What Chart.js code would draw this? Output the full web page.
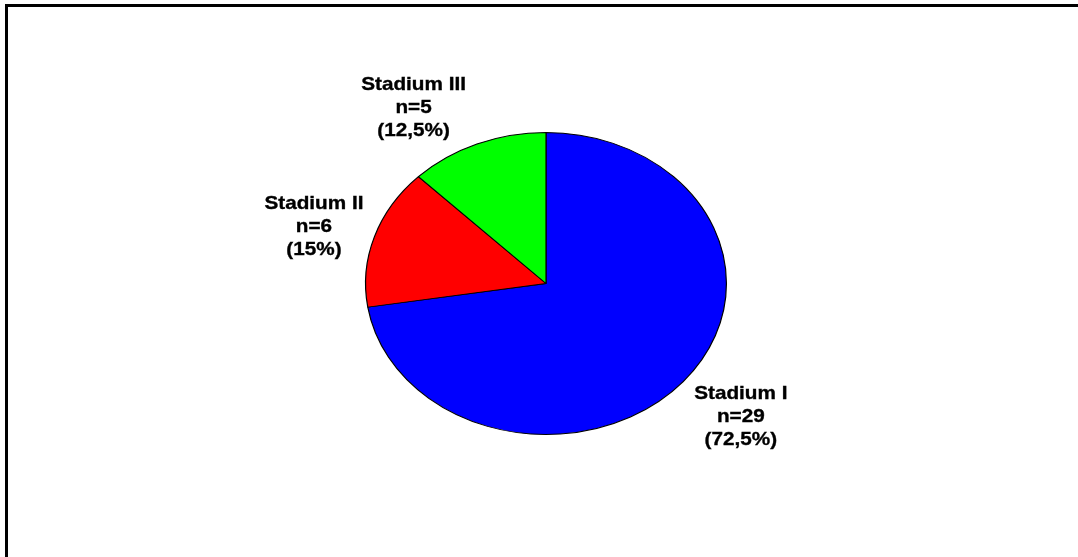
<!DOCTYPE html>
<html>
<head>
<meta charset="utf-8">
<script src="https://cdn.jsdelivr.net/npm/chart.js@4/dist/chart.umd.min.js"></script>
<style>
  html, body { margin: 0; padding: 0; background: #fff; }
  #wrap { position: relative; width: 1078px; height: 557px; overflow: hidden; }
  #frame { position: absolute; left: 5px; top: 4px; right: -10px; bottom: -10px;
           border-top: 3px solid #000; border-left: 3px solid #000; box-sizing: border-box; pointer-events: none; }
  canvas { position: absolute; left: 0; top: 0; }
</style>
</head>
<body>
<div id="wrap">
  <canvas id="c" width="1078" height="557"></canvas>
  <div id="frame"></div>
</div>
<script>
// ---- data ----
const categories = ["Stadium I", "Stadium II", "Stadium III"];
const counts = [29, 6, 5];
const colors = ["#0000FF", "#FF0000", "#00FF00"];

// ---- styling ----
const ELLIPSE_X = 1.195;      // horizontal stretch of the pie (ellipse look)
const TEXT_X = 1.09;          // horizontal stretch of label text
const FONT = "bold 19px 'Liberation Sans', Arial, sans-serif";
const LINE_H = 23;

const total = counts.reduce((a, b) => a + b, 0);
function pctText(v) {
  const p = Math.round(v / total * 1000) / 10;
  return (Number.isInteger(p) ? String(p) : p.toFixed(1).replace('.', ',')) + '%';
}

const ellipsePlugin = {
  id: 'ellipse',
  beforeDatasetsDraw(chart) {
    const arc = chart.getDatasetMeta(0).data[0];
    const ctx = chart.ctx;
    ctx.save();
    ctx.translate(arc.x, arc.y);
    ctx.scale(ELLIPSE_X, 1);
    ctx.translate(-arc.x, -arc.y);
  },
  afterDatasetsDraw(chart) {
    chart.ctx.restore();
  }
};

const labelPlugin = {
  id: 'outsideLabels',
  afterDraw(chart) {
    const ctx = chart.ctx;
    const meta = chart.getDatasetMeta(0);
    ctx.save();
    ctx.font = FONT;
    ctx.fillStyle = '#000';
    ctx.strokeStyle = '#000';
    ctx.lineWidth = 0.35;
    ctx.textAlign = 'center';
    ctx.textBaseline = 'middle';
    meta.data.forEach((arc, i) => {
      const lines = [categories[i], 'n=' + counts[i], '(' + pctText(counts[i]) + ')'];
      const mid = (arc.startAngle + arc.endAngle) / 2;
      const c = Math.cos(mid), s = Math.sin(mid);
      const ax = arc.x + c * arc.outerRadius * ELLIPSE_X;
      const ay = arc.y + s * arc.outerRadius;
      const w = Math.max(...lines.map(l => ctx.measureText(l).width)) * TEXT_X;
      const h = 2 * LINE_H + 14;
      const cx = ax + Math.sign(c) * (w / 2 + 11);
      const cy = ay + s * (h / 2 + 12) + 3 + (s > 0 ? 5 : 0);
      lines.forEach((l, k) => {
        ctx.save();
        ctx.translate(cx, cy + (k - 1) * LINE_H);
        ctx.scale(TEXT_X, 1);
        ctx.fillText(l, 0, 0);
        ctx.strokeText(l, 0, 0);
        ctx.restore();
      });
    });
    ctx.restore();
  }
};

new Chart(document.getElementById('c'), {
  type: 'pie',
  data: {
    labels: categories,
    datasets: [{
      data: counts,
      backgroundColor: colors,
      borderColor: '#000',
      borderWidth: 1,
      radius: 151
    }]
  },
  options: {
    responsive: false,
    animation: false,
    events: [],
    layout: { padding: { left: 14, right: 0, top: 10, bottom: 0 } },
    plugins: {
      legend: { display: false },
      tooltip: { enabled: false },
      title: { display: false }
    }
  },
  plugins: [ellipsePlugin, labelPlugin]
});
</script>
</body>
</html>
